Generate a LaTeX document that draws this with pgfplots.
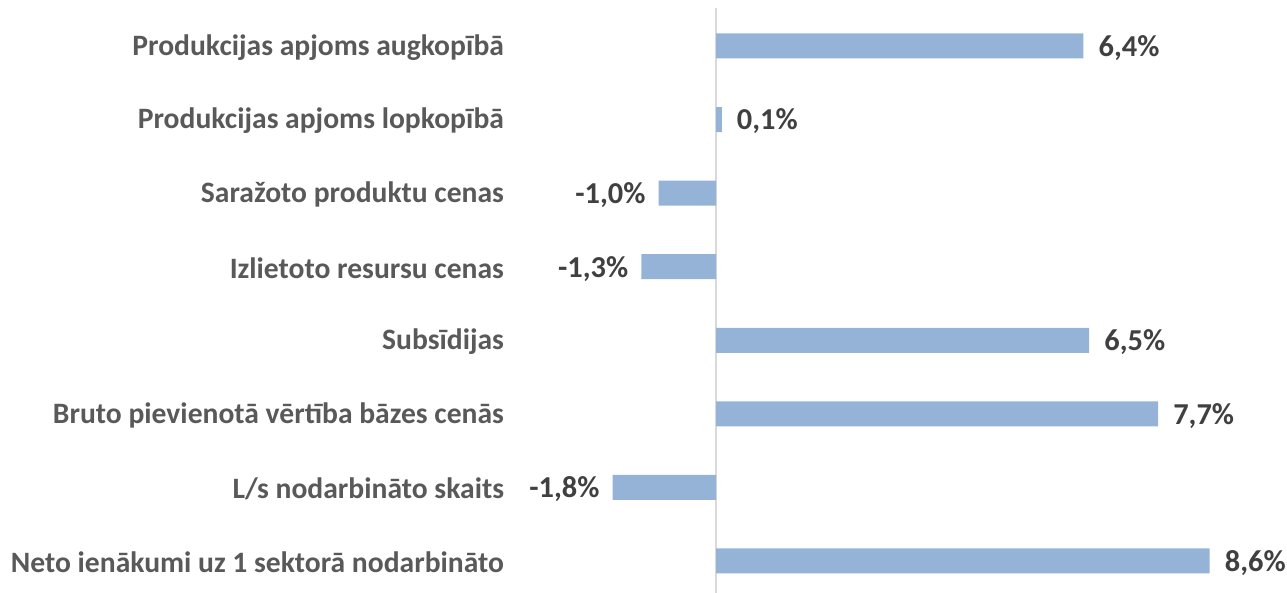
\documentclass[border=0pt]{standalone}
\usepackage{fontspec}
\setmainfont{Carlito}
\usepackage{pgfplots}
\pgfplotsset{compat=1.18}
\usepackage{pgfplotstable}
\definecolor{barc}{HTML}{95B3D7}
\definecolor{labc}{HTML}{595959}
\definecolor{valc}{HTML}{404040}
\definecolor{axc}{HTML}{D9D9D9}
\pgfplotstableread{
y x lab
0 8.6 {8,6\%}
2 7.7 {7,7\%}
3 6.5 {6,5\%}
6 0.1 {0,1\%}
7 6.4 {6,4\%}
}\pos
\pgfplotstableread{
y x lab
1 -1.8 {-1,8\%}
4 -1.3 {-1,3\%}
5 -1.0 {-1,0\%}
}\negv
\begin{document}
\begin{tikzpicture}
\begin{axis}[
  scale only axis,
  width=769.2bp, height=585.4bp,
  xmin=-3.6, xmax=9.8,
  ymin=-0.435, ymax=7.522,
  xbar, bar width=25bp, bar shift=0pt,
  axis line style={draw=none},
  tick style={draw=none},
  xtick=\empty,
  ytick={0,...,7},
  yticklabels={Neto ienākumi uz 1 sektorā nodarbināto, L/s nodarbināto skaits, Bruto pievienotā vērtība bāzes cenās, Subsīdijas, Izlietoto resursu cenas, Saražoto produktu cenas\ , Produkcijas apjoms lopkopībā, Produkcijas apjoms augkopībā},
  yticklabel style={anchor=east, inner sep=0pt, xshift=-1bp, yshift=-1.5bp, font=\fontsize{29.7}{32}\selectfont\bfseries, text=labc},
  point meta=explicit symbolic,
  nodes near coords,
  every node near coord/.append style={font=\fontsize{30.5}{33}\selectfont\bfseries, text=valc, inner ysep=0pt, yshift=-2bp},
  clip=false,
]
\draw[axc, line width=1.5bp] (axis cs:0,-0.435) -- (axis cs:0,7.522);
\addplot[fill=barc, draw=none, every node near coord/.append style={anchor=west, inner xsep=15bp}] table[x=x, y=y, meta=lab] {\pos};
\addplot[fill=barc, draw=none, every node near coord/.append style={anchor=east, inner xsep=13bp}] table[x=x, y=y, meta=lab] {\negv};
\end{axis}
\pgfresetboundingbox
\path (-509.4bp,0) rectangle (777.6bp,593bp);
\end{tikzpicture}
\end{document}
